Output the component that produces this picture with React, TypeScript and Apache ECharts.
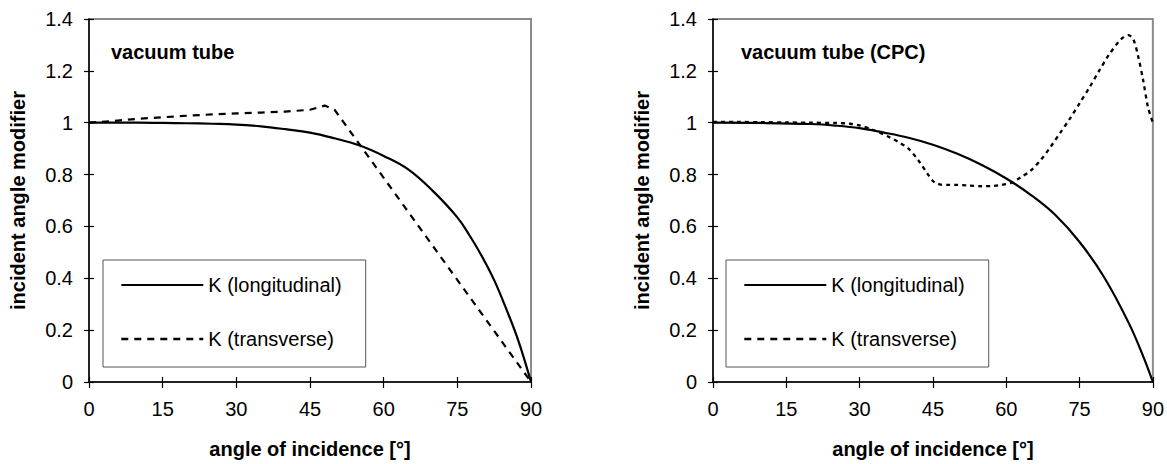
import React, { useEffect, useRef } from "react";
import * as echarts from "echarts";

const FONT = 'Arial, "Liberation Sans", Helvetica, sans-serif';

// Axis scales / tick labels
const xTicks = [0, 15, 30, 45, 60, 75, 90];
const yTicks = [0, 0.2, 0.4, 0.6, 0.8, 1, 1.2, 1.4];

const seriesNames = ["K (longitudinal)", "K (transverse)"];
const chartTitles = ["vacuum tube", "vacuum tube (CPC)"];
const xAxisTitle = "angle of incidence [°]";
const yAxisTitle = "incident angle modifier";

// Left chart: vacuum tube
const tubeLongAngles = [0, 5, 10, 15, 20, 25, 30, 35, 40, 45, 50, 55, 60, 65, 70, 75, 77.5, 80, 82.5, 85, 87.5, 90];
const tubeLongValues = [1, 1, 1, 0.999, 0.998, 0.996, 0.993, 0.986, 0.975, 0.962, 0.94, 0.913, 0.872, 0.82, 0.737, 0.635, 0.565, 0.485, 0.393, 0.28, 0.155, 0];
const tubeTransAngles = [0, 5, 10, 15, 20, 25, 30, 35, 40, 45, 48, 50, 90];
const tubeTransValues = [1.0, 1.007, 1.015, 1.021, 1.027, 1.032, 1.036, 1.039, 1.043, 1.05, 1.066, 1.05, 0];

// Right chart: vacuum tube (CPC)
const cpcLongAngles = [0, 10, 20, 25, 30, 35, 40, 45, 50, 55, 60, 65, 70, 75, 80, 85, 88, 90];
const cpcLongValues = [1, 0.999, 0.995, 0.989, 0.979, 0.962, 0.942, 0.915, 0.88, 0.837, 0.785, 0.722, 0.645, 0.54, 0.405, 0.23, 0.1, 0];
const cpcTransAngles = [0, 5, 10, 15, 20, 25, 28, 30, 32, 34, 36, 38, 40, 42, 44, 45, 46, 48, 50, 52, 55, 57, 59, 61, 63, 65, 67, 69, 71, 73, 75, 77, 79, 81, 83, 84, 85, 86, 87, 88, 89, 90];
const cpcTransValues = [1.003, 1.003, 1.002, 1.001, 1.0, 0.999, 0.996, 0.99, 0.978, 0.962, 0.945, 0.925, 0.9, 0.855, 0.8, 0.775, 0.763, 0.76, 0.76, 0.758, 0.755, 0.756, 0.76, 0.768, 0.79, 0.815, 0.855, 0.905, 0.96, 1.015, 1.075, 1.135, 1.2, 1.262, 1.312, 1.33, 1.338, 1.322, 1.255, 1.165, 1.06, 1.0];

const zip = (xs: number[], ys: number[]) => xs.map((x, i) => [x, ys[i]]);

const GRID_LEFTS = [89, 713];

function buildOption() {
  const grid: any[] = [];
  const xAxis: any[] = [];
  const yAxis: any[] = [];
  const title: any[] = [];
  const legend: any[] = [];
  const series: any[] = [];

  const xMin = xTicks[0];
  const xMax = xTicks[xTicks.length - 1];
  const xInt = xTicks[1] - xTicks[0];
  const yMin = yTicks[0];
  const yMax = yTicks[yTicks.length - 1];
  const yInt = yTicks[1] - yTicks[0];

  const dataSets = [
    { long: zip(tubeLongAngles, tubeLongValues), trans: zip(tubeTransAngles, tubeTransValues), dash: [7, 6], width: 2.2, smoothT: false },
    { long: zip(cpcLongAngles, cpcLongValues), trans: zip(cpcTransAngles, cpcTransValues), dash: [4, 4], width: 2.3, smoothT: 0.3 },
  ];
  const titleLeft = [111, 741];
  const legendLeft = [103, 726];

  GRID_LEFTS.forEach((left, g) => {
    grid.push({
      left, top: 19, width: 442, height: 363,
      show: true, borderColor: "#8c8c8c", borderWidth: 2, backgroundColor: "#fff",
    });
    // main x axis (labels + outside ticks)
    xAxis.push({
      type: "value", gridIndex: g, min: xMin, max: xMax, interval: xInt, position: "bottom",
      axisLine: { show: true, onZero: false, lineStyle: { color: "#000", width: 1.5 } },
      axisTick: { show: true, length: 6, lineStyle: { color: "#000", width: 1.2 } },
      axisLabel: { margin: 17, fontSize: 20, color: "#000", fontFamily: FONT },
      splitLine: { show: false },
      name: xAxisTitle, nameLocation: "middle", nameGap: 57,
      nameTextStyle: { fontSize: 20, fontWeight: "bold", color: "#000", fontFamily: FONT },
    });
    // inner tick axis
    xAxis.push({
      type: "value", gridIndex: g, min: xMin, max: xMax, interval: xInt, position: "bottom",
      axisLine: { show: false },
      axisTick: { show: true, inside: true, length: 5, lineStyle: { color: "#000", width: 1.2 } },
      axisLabel: { show: false }, splitLine: { show: false },
    });
    yAxis.push({
      type: "value", gridIndex: g, min: yMin, max: yMax, interval: yInt, position: "left",
      axisLine: { show: true, onZero: false, lineStyle: { color: "#000", width: 1.5 } },
      axisTick: { show: true, length: 5, lineStyle: { color: "#000", width: 1.2 } },
      axisLabel: { margin: 16, fontSize: 20, color: "#000", fontFamily: FONT },
      splitLine: { show: false },
      name: yAxisTitle, nameLocation: "middle", nameGap: 61,
      nameTextStyle: { fontSize: 20, fontWeight: "bold", color: "#000", fontFamily: FONT },
    });
    yAxis.push({
      type: "value", gridIndex: g, min: yMin, max: yMax, interval: yInt, position: "left",
      axisLine: { show: false },
      axisTick: { show: true, inside: true, length: 5, lineStyle: { color: "#000", width: 1.2 } },
      axisLabel: { show: false }, splitLine: { show: false },
    });
    title.push({
      text: chartTitles[g], left: titleLeft[g], top: 42, padding: 0,
      textStyle: { fontSize: 20, fontWeight: "bold", color: "#000", fontFamily: FONT },
    });
    legend.push({
      orient: "vertical", left: legendLeft[g], top: 260,
      padding: [15, 24, 18, 17], itemGap: 34, itemWidth: 82, itemHeight: 20,
      borderColor: "#555", borderWidth: 1, backgroundColor: "#fff", borderRadius: 0,
      selectedMode: false,
      itemStyle: { opacity: 0, color: "transparent", borderWidth: 0 },
      textStyle: { fontSize: 20, color: "#000", fontFamily: FONT },
      data: [
        { name: seriesNames[0], itemStyle: { opacity: 0, color: "transparent", borderWidth: 0 }, lineStyle: { color: "#000", width: 2.2, type: "solid" } },
        { name: seriesNames[1], itemStyle: { opacity: 0, color: "transparent", borderWidth: 0 }, lineStyle: { color: "#000", width: 2.6, type: [7, 6] } },
      ],
    });
    const ds = dataSets[g];
    series.push({
      name: seriesNames[0], type: "line", xAxisIndex: 2 * g, yAxisIndex: 2 * g,
      data: ds.long, symbol: "none", showSymbol: false, smooth: 0.4,
      color: "#000", itemStyle: { color: "#000" },
      lineStyle: { color: "#000", width: 2.2, type: "solid" }, z: 3,
    });
    series.push({
      name: seriesNames[1], type: "line", xAxisIndex: 2 * g, yAxisIndex: 2 * g,
      data: ds.trans, symbol: "none", showSymbol: false, smooth: ds.smoothT,
      color: "#000", itemStyle: { color: "#000" },
      lineStyle: { color: "#000", width: ds.width, type: ds.dash }, z: 3,
    });
  });

  return {
    animation: false,
    backgroundColor: "#fff",
    textStyle: { fontFamily: FONT },
    grid, xAxis, yAxis, title, legend, series,
  };
}

export default function App() {
  const ref = useRef<HTMLDivElement>(null);
  useEffect(() => {
    if (!ref.current) return;
    const chart = echarts.init(ref.current, undefined, { renderer: "svg" });
    chart.setOption(buildOption() as any);
    return () => chart.dispose();
  }, []);
  return (
    <div
      ref={ref}
      style={{ position: "fixed", left: 0, top: 0, width: 1167, height: 464, background: "#fff" }}
    />
  );
}
